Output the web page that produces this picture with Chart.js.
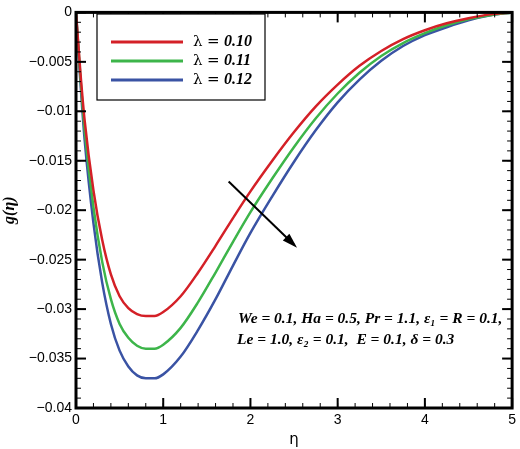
<!DOCTYPE html>
<html><head><meta charset="utf-8">
<script src="https://cdn.jsdelivr.net/npm/chart.js@4"></script>
<style>body{margin:0;background:#fff}#c{width:520px;height:449px}</style>
</head><body>
<div id="c"><canvas id="chart" width="520" height="449"></canvas></div>
<script>
var eta = [0,0.05,0.1,0.2,0.3,0.4,0.5,0.6,0.7,0.8,0.9,1.0,1.2,1.4,1.6,1.8,2.0,2.25,2.5,2.75,3,3.25,3.5,3.75,4,4.25,4.5,4.75,5];
var g010 = [0,-0.006,-0.011,-0.018,-0.023,-0.0265,-0.0287,-0.0299,-0.0305,-0.0307,-0.0307,-0.0303,-0.0287,-0.0263,-0.0236,-0.0208,-0.0181,-0.0150,-0.0121,-0.0095,-0.0073,-0.0054,-0.0039,-0.0027,-0.0018,-0.0011,-0.0006,-0.0002,0];
var g011 = [0,-0.0065,-0.012,-0.0197,-0.0252,-0.029,-0.0315,-0.0329,-0.0337,-0.034,-0.034,-0.0336,-0.0319,-0.0293,-0.0263,-0.0232,-0.0202,-0.0168,-0.0136,-0.0107,-0.0082,-0.0061,-0.0044,-0.0031,-0.0021,-0.0013,-0.0007,-0.0003,0];
var g012 = [0,-0.007,-0.013,-0.0213,-0.0273,-0.0315,-0.0342,-0.0358,-0.0367,-0.037,-0.037,-0.0366,-0.0348,-0.0321,-0.029,-0.0256,-0.0223,-0.0186,-0.0151,-0.0119,-0.0091,-0.0068,-0.0049,-0.0034,-0.0023,-0.0015,-0.0008,-0.0003,0];
var seriesLabels = ["0.10", "0.11", "0.12"];
var colors = ["#d42027", "#3db54a", "#3a53a4"];

function pts(arr) { return eta.map(function (x, i) { return {x: x, y: arr[i]}; }); }

var decor = {
    id: "decor",
    afterDraw: function (chart) {
        var ctx = chart.ctx, a = chart.chartArea, xs = chart.scales.x, ys = chart.scales.y;
        ctx.save();
        // minor ticks
        ctx.strokeStyle = "#000"; ctx.lineWidth = 1;
        for (var i = 0; i <= 25; i++) {
            var px = xs.getPixelForValue(i * 0.2);
            ctx.beginPath(); ctx.moveTo(px, a.bottom); ctx.lineTo(px, a.bottom - 5); ctx.stroke();
            ctx.beginPath(); ctx.moveTo(px, a.top); ctx.lineTo(px, a.top + 5); ctx.stroke();
        }
        for (var j = 0; j <= 40; j++) {
            var py = ys.getPixelForValue(-j * 0.001);
            ctx.beginPath(); ctx.moveTo(a.left, py); ctx.lineTo(a.left + 5, py); ctx.stroke();
            ctx.beginPath(); ctx.moveTo(a.right, py); ctx.lineTo(a.right - 5, py); ctx.stroke();
        }
        for (var k = 0; k <= 5; k++) {
            var mx = xs.getPixelForValue(k);
            ctx.lineWidth = 2;
            ctx.beginPath(); ctx.moveTo(mx, a.bottom); ctx.lineTo(mx, a.bottom - 10); ctx.stroke();
            ctx.beginPath(); ctx.moveTo(mx, a.top); ctx.lineTo(mx, a.top + 10); ctx.stroke();
        }
        for (var m = 0; m <= 8; m++) {
            var my = ys.getPixelForValue(-m * 0.005);
            ctx.beginPath(); ctx.moveTo(a.left, my); ctx.lineTo(a.left + 10, my); ctx.stroke();
            ctx.beginPath(); ctx.moveTo(a.right, my); ctx.lineTo(a.right - 10, my); ctx.stroke();
        }
        // frame
        ctx.lineWidth = 3;
        ctx.strokeRect(a.left, a.top, a.right - a.left, a.bottom - a.top);
        // legend box
        ctx.fillStyle = "#fff"; ctx.lineWidth = 1.2;
        ctx.fillRect(97, 14, 168, 86); ctx.strokeRect(97, 14, 168, 86);
        ctx.textBaseline = "middle";
        for (var s = 0; s < 3; s++) {
            var ly = 42 + s * 19;
            ctx.strokeStyle = colors[s]; ctx.lineWidth = 3;
            ctx.beginPath(); ctx.moveTo(111, ly); ctx.lineTo(183, ly); ctx.stroke();
            ctx.fillStyle = "#000";
            ctx.font = "15px 'DejaVu Serif'";
            ctx.fillText("λ", 193, ly);
            ctx.fillText("=", 207, ly);
            ctx.font = "italic bold 16px 'Liberation Serif'";
            ctx.fillText(seriesLabels[s], 224, ly);
        }
        // arrow
        ctx.strokeStyle = "#000"; ctx.fillStyle = "#000"; ctx.lineWidth = 2;
        var x1 = xs.getPixelForValue(1.75), y1 = ys.getPixelForValue(-0.0171);
        var x2 = xs.getPixelForValue(2.5), y2 = ys.getPixelForValue(-0.0235);
        ctx.beginPath(); ctx.moveTo(x1, y1); ctx.lineTo(x2, y2); ctx.stroke();
        var ang = Math.atan2(y2 - y1, x2 - x1);
        ctx.beginPath();
        ctx.moveTo(x2 + 3, y2 + 3 * Math.tan(ang));
        ctx.lineTo(x2 - 12 * Math.cos(ang - 0.4), y2 - 12 * Math.sin(ang - 0.4));
        ctx.lineTo(x2 - 12 * Math.cos(ang + 0.4), y2 - 12 * Math.sin(ang + 0.4));
        ctx.closePath(); ctx.fill();
        // parameters text
        ctx.font = "italic bold 15.5px 'Liberation Serif'";
        ctx.textBaseline = "alphabetic";
        ctx.fillText("We = 0.1, Ha = 0.5, Pr = 1.1, ε₁ = R = 0.1,", 238, 323);
        ctx.fillText("Le = 1.0, ε₂ = 0.1,  E = 0.1, δ = 0.3", 237, 344);
        ctx.restore();
    }
};

new Chart(document.getElementById("chart").getContext("2d"), {
    type: "line",
    data: {
        datasets: [
            {data: pts(g010), borderColor: colors[0]},
            {data: pts(g011), borderColor: colors[1]},
            {data: pts(g012), borderColor: colors[2]}
        ]
    },
    options: {
        responsive: false,
        animation: false,
        layout: {padding: {top: 8, right: 5, left: 0, bottom: 0}},
        elements: {point: {radius: 0}, line: {borderWidth: 2.5, tension: 0.4, cubicInterpolationMode: "monotone"}},
        plugins: {legend: {display: false}, tooltip: {enabled: false}},
        scales: {
            x: {
                type: "linear", min: 0, max: 5,
                grid: {display: false, drawTicks: false}, border: {display: false},
                ticks: {stepSize: 1, color: "#000", font: {family: "Liberation Sans", size: 14}, padding: 4},
                title: {display: true, text: "η", color: "#000", font: {family: "DejaVu Sans", size: 15}, padding: 0},
                afterFit: function (s) { s.height = 41; }
            },
            y: {
                min: -0.04, max: 0,
                grid: {display: false, drawTicks: false}, border: {display: false},
                ticks: {stepSize: 0.005, color: "#000", font: {family: "Liberation Sans", size: 14}, padding: 4,
                    callback: function (v) { return v === 0 ? "0" : String(Math.round(v * 1000) / 1000).replace("-", "−"); }},
                title: {display: true, text: "g(η)", color: "#000", font: {family: "Liberation Serif", size: 16, style: "italic", weight: "bold"}, padding: 0},
                afterFit: function (s) { s.width = 76; }
            }
        }
    },
    plugins: [decor]
});
</script>
</body></html>
